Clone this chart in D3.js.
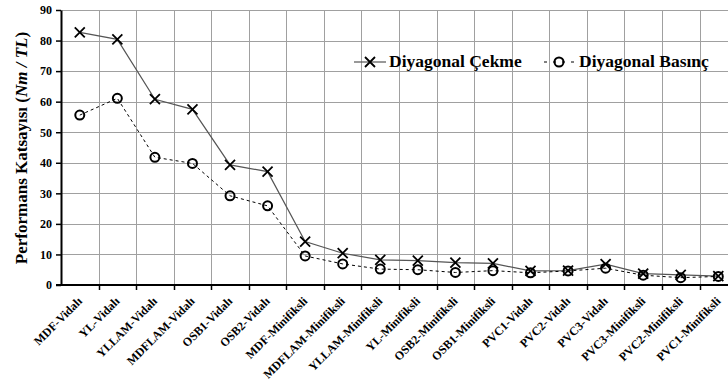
<!DOCTYPE html>
<meta charset="utf-8">
<style>
body { margin: 0; background: #fff; }
text { font-family: "Liberation Serif", "Times New Roman", serif; font-weight: bold; }
</style>
<body>
<script src="https://d3js.org/d3.v7.min.js"></script>
<script>

var categories = ["MDF-Vidalı", "YL-Vidalı", "YLLAM-Vidalı", "MDFLAM-Vidalı", "OSB1-Vidalı", "OSB2-Vidalı",
  "MDF-Minifiksli", "MDFLAM-Minifiksli", "YLLAM-Minifiksli", "YL-Minifiksli", "OSB2-Minifiksli", "OSB1-Minifiksli",
  "PVC1-Vidalı", "PVC2-Vidalı", "PVC3-Vidalı", "PVC3-Minifiksli", "PVC2-Minifiksli", "PVC1-Minifiksli"];

var cekme = [82.7, 80.4, 60.8, 57.5, 39.3, 37.1, 14.2, 10.4, 8.2, 8.0, 7.3, 7.1, 4.6, 4.7, 6.8, 3.7, 3.3, 2.9];
var basinc = [55.6, 61.1, 41.8, 39.8, 29.2, 25.9, 9.5, 6.9, 5.2, 5.0, 4.1, 4.7, 4.0, 4.6, 5.5, 3.2, 2.4, 2.8];

var yTicks = [0, 10, 20, 30, 40, 50, 60, 70, 80, 90];

var width = 728, height = 390;
var mLeft = 61, mTop = 10, mBottom = 285;

var svg = d3.select("body").append("svg")
  .attr("width", width).attr("height", height);

// plot runs a little past the right edge, as in the original
var x = d3.scaleBand()
  .domain(categories)
  .range([mLeft, mLeft + 18 * 37.56]);

var y = d3.scaleLinear()
  .domain([0, 90])
  .range([mBottom, mTop]);

// grid
svg.append("g").selectAll("line").data(yTicks.slice(1)).enter().append("line")
  .attr("x1", mLeft).attr("x2", x.range()[1])
  .attr("y1", function(d) { return Math.round(y(d)) + 0.5; }).attr("y2", function(d) { return Math.round(y(d)) + 0.5; })
  .attr("stroke", "#a0a0a0").attr("stroke-width", 1);

svg.append("g").selectAll("line").data(categories.slice(1)).enter().append("line")
  .attr("x1", function(d) { return Math.round(x(d)) + 0.5; }).attr("x2", function(d) { return Math.round(x(d)) + 0.5; })
  .attr("y1", mTop).attr("y2", mBottom)
  .attr("stroke", "#a0a0a0").attr("stroke-width", 1);

// axes
var yAxis = d3.axisLeft(y).tickValues(yTicks).tickSize(5).tickPadding(4).tickSizeOuter(0);
var gy = svg.append("g").attr("transform", "translate(" + mLeft + ",0)").call(yAxis);
gy.select(".domain").attr("stroke", "#000").attr("stroke-width", 2);
gy.selectAll("line").attr("stroke", "#000").attr("stroke-width", 1.5);
gy.selectAll("text").style("font-size", "12px").style("font-family", "Liberation Serif").style("font-weight", "bold").attr("fill", "#000");

var gx = svg.append("g").attr("transform", "translate(0," + mBottom + ")");
gx.append("line").attr("x1", mLeft - 5).attr("x2", x.range()[1])
  .attr("y1", 0).attr("y2", 0).attr("stroke", "#000").attr("stroke-width", 2);
gx.selectAll("line.t").data(categories.slice(1)).enter().append("line")
  .attr("x1", function(d) { return Math.round(x(d)) + 0.5; }).attr("x2", function(d) { return Math.round(x(d)) + 0.5; })
  .attr("y1", 0).attr("y2", 5).attr("stroke", "#000").attr("stroke-width", 1.5);

gx.selectAll("text").data(categories).enter().append("text")
  .attr("transform", function(d) {
    return "translate(" + (x(d) + x.bandwidth() / 2) + ",14) rotate(-45)";
  })
  .attr("text-anchor", "end")
  .attr("dy", "0.35em")
  .style("font-size", "12px")
  .attr("fill", "#000")
  .text(function(d) { return d; });

// y title
var yt = svg.append("text")
  .attr("transform", "translate(27,148) rotate(-90)")
  .attr("text-anchor", "middle")
  .style("font-size", "17px")
  .attr("fill", "#000");
yt.append("tspan").text("Performans Katsayısı (");
yt.append("tspan").style("font-style", "italic").text("Nm / TL");
yt.append("tspan").text(")");

// lines
var line = d3.line()
  .x(function(d, i) { return x(categories[i]) + x.bandwidth() / 2; })
  .y(function(d) { return y(d); });

svg.append("path").datum(cekme).attr("d", line)
  .attr("fill", "none").attr("stroke", "#555").attr("stroke-width", 1.2);

svg.append("path").datum(basinc).attr("d", line)
  .attr("fill", "none").attr("stroke", "#000").attr("stroke-width", 1).attr("stroke-dasharray", "3,3");

function cross(g, cx, cy) {
  g.append("path")
    .attr("d", "M" + (cx - 5) + "," + (cy - 5) + "L" + (cx + 5) + "," + (cy + 5) +
      "M" + (cx - 5) + "," + (cy + 5) + "L" + (cx + 5) + "," + (cy - 5))
    .attr("stroke", "#000").attr("stroke-width", 1.8).attr("fill", "none");
}
function ring(g, cx, cy) {
  g.append("circle").attr("cx", cx).attr("cy", cy).attr("r", 4.5)
    .attr("fill", "none").attr("stroke", "#000").attr("stroke-width", 2);
}

var marks = svg.append("g");
cekme.forEach(function(d, i) { cross(marks, x(categories[i]) + x.bandwidth() / 2, y(d)); });
basinc.forEach(function(d, i) { ring(marks, x(categories[i]) + x.bandwidth() / 2, y(d)); });

// legend
var lg = svg.append("g");
lg.append("line").attr("x1", 354).attr("x2", 386).attr("y1", 62).attr("y2", 62)
  .attr("stroke", "#555").attr("stroke-width", 1.2);
cross(lg, 370, 62);
lg.append("text").attr("x", 389).attr("y", 67).style("font-size", "17.5px").attr("fill", "#000").text("Diyagonal Çekme");

lg.append("line").attr("x1", 544).attr("x2", 574).attr("y1", 62).attr("y2", 62)
  .attr("stroke", "#000").attr("stroke-width", 1).attr("stroke-dasharray", "3,6");
ring(lg, 559, 62);
lg.append("text").attr("x", 579).attr("y", 67).style("font-size", "17.5px").attr("fill", "#000").text("Diyagonal Basınç");

</script>
</body>
